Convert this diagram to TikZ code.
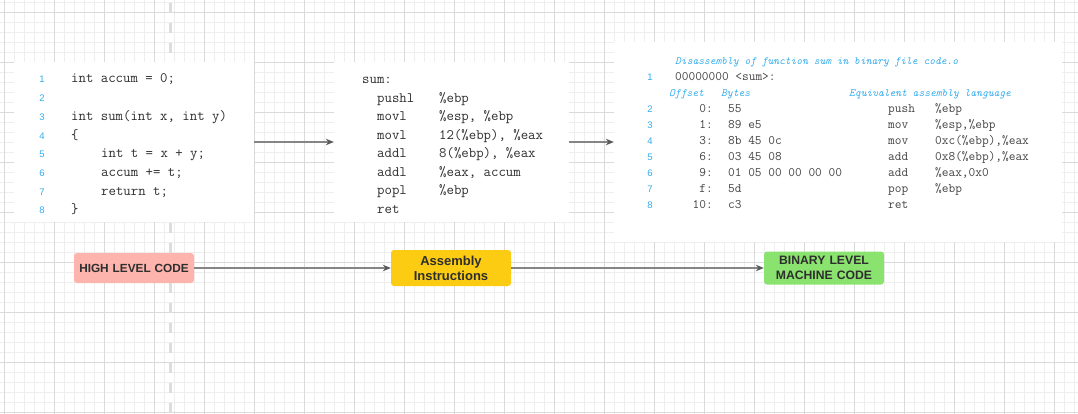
\documentclass[tikz,border=0pt]{standalone}
\usepackage{fontspec}
\newfontfamily\labelfont{Liberation Sans}
\usetikzlibrary{arrows.meta}

\definecolor{gridminor}{HTML}{EEEEEE}
\definecolor{gridmajor}{HTML}{DADADA}
\definecolor{pagebreak}{HTML}{DDDDDD}
\definecolor{codegray}{HTML}{2E2E2E}
\definecolor{dumpgray}{HTML}{444444}
\definecolor{lineblue}{HTML}{33ADEE}
\definecolor{arrowgray}{HTML}{858585}
\definecolor{headgray}{HTML}{5A5A5A}
\definecolor{hlcpink}{HTML}{FDB4AC}
\definecolor{asmyellow}{HTML}{FCCC12}
\definecolor{bingreen}{HTML}{8BE36F}

\begin{document}
\begin{tikzpicture}[x=1pt, y=-1pt,
    panel/.style={fill=white, draw=none, inner sep=0pt},
    lno/.style={text=lineblue, font=\labelfont\fontsize{9.5}{10}\selectfont, anchor=base, inner sep=0pt},
    code/.style={text=codegray, font=\ttfamily\fontsize{14.4}{16}\selectfont, anchor=base west, inner sep=0pt},
    dump/.style={text=dumpgray, font=\ttfamily\fontsize{13}{15}\selectfont, anchor=base west, inner sep=0pt},
    heading/.style={text=lineblue, font=\ttfamily\itshape\fontsize{11}{13}\selectfont, anchor=base west, inner sep=0pt},
    stage/.style={rounded corners=3pt, minimum width=120pt, text width=116pt, align=center, inner sep=0pt,
        text=codegray},
    flow/.style={arrowgray, line width=1.4pt, -{Stealth[length=8pt, width=6.5pt, color=headgray]}},
]
    % --- Definitions ---
    \def\srcTop{83}     % baseline of first C line
    \def\srcStep{18.7}
    \def\asmTop{84}     % baseline of "sum:"
    \def\asmStep{18.5}
    \def\dumpTop{113}   % baseline of first byte row
    \def\dumpStep{15.9}

    % --- Canvas and grid ---
    \useasboundingbox (0,0) rectangle (1078,414);
    \fill[white] (0,0) rectangle (1078,414);
    \foreach \x in {4,14,...,1074} \draw[gridminor, line width=0.8pt] (\x,0) -- (\x,414);
    \foreach \y in {2,12,...,412} \draw[gridminor, line width=0.8pt] (0,\y) -- (1078,\y);
    \foreach \x in {4,54,...,1054} \draw[gridmajor, line width=0.8pt] (\x,0) -- (\x,414);
    \foreach \y in {12,62,...,412} \draw[gridmajor, line width=0.8pt] (0,\y) -- (1078,\y);

    % --- Page break ---
    \draw[pagebreak, line width=3pt, dash pattern=on 10pt off 10pt] (170,3) -- (170,414);

    % --- Panels ---
    \node[panel, minimum width=240pt, minimum height=160pt] (src) at (134,142) {};
    \node[panel, minimum width=235pt, minimum height=160pt] (asmcode) at (451.5,142) {};
    \node[panel, minimum width=448pt, minimum height=200pt] (objdump) at (838,142) {};

    % --- C source ---
    \foreach \n in {1,...,8}
        \node[lno] (src-l\n) at (42,{\srcTop+\srcStep*(\n-1)}) {\n};
    \foreach \n/\x/\t in {1/71/{int accum = 0;}, 3/71/{int sum(int x, int y)}, 4/71/{\{},
                          5/101/{int t = x + y;}, 6/101/{accum += t;}, 7/101/{return t;}, 8/71/{\}}}
        \node[code] (src-c\n) at (\x,{\srcTop+\srcStep*(\n-1)}) {\t};

    % --- Assembly ---
    \node[code] (asm-label) at (362,\asmTop) {sum:};
    \foreach \k/\op/\arg in {1/pushl/{\%ebp}, 2/movl/{\%esp, \%ebp}, 3/movl/{12(\%ebp), \%eax},
                             4/addl/{8(\%ebp), \%eax}, 5/addl/{\%eax, accum}, 6/popl/{\%ebp}, 7/ret/{}} {
        \node[code] (asm-op\k) at (377,{\asmTop+\asmStep*\k}) {\op};
        \node[code] (asm-arg\k) at (439,{\asmTop+\asmStep*\k}) {\arg};
    }

    % --- Disassembly ---
    \node[heading] (dump-title) at (675,65) {Disassembly of function sum in binary file code.o};
    \node[lno] (dump-l1) at (650,81) {1};
    \node[dump] (dump-sym) at (675,81) {00000000 <sum>:};
    \node[heading] (dump-off) at (669,97) {Offset};
    \node[heading] (dump-bytes) at (721,97) {Bytes};
    \node[heading] (dump-equiv) at (849,97) {Equivalent assembly language};
    \foreach \n/\off/\bytes/\op/\arg in {2/0:/55/push/{\%ebp}, 3/1:/89 e5/mov/{\%esp,\%ebp},
            4/3:/8b 45 0c/mov/{0xc(\%ebp),\%eax}, 5/6:/03 45 08/add/{0x8(\%ebp),\%eax},
            6/9:/01 05 00 00 00 00/add/{\%eax,0x0}, 7/f:/5d/pop/{\%ebp}, 8/10:/c3/ret/{}} {
        \node[lno] (dump-l\n) at (650,{\dumpTop+\dumpStep*(\n-2)}) {\n};
        \node[dump, anchor=base east] (dump-o\n) at (713,{\dumpTop+\dumpStep*(\n-2)}) {\off};
        \node[dump] (dump-b\n) at (728,{\dumpTop+\dumpStep*(\n-2)}) {\bytes};
        \node[dump] (dump-m\n) at (888,{\dumpTop+\dumpStep*(\n-2)}) {\op};
        \node[dump] (dump-a\n) at (935,{\dumpTop+\dumpStep*(\n-2)}) {\arg};
    }

    % --- Stages ---
    \node[stage, fill=hlcpink, minimum height=30pt, font=\labelfont\bfseries\fontsize{11.8}{15}\selectfont]
        (hlc) at (134,268) {HIGH LEVEL CODE};
    \node[stage, fill=asmyellow, minimum height=36pt, font=\labelfont\bfseries\fontsize{13}{15}\selectfont]
        (asm) at (451,268) {Assembly\\Instructions};
    \node[stage, fill=bingreen, minimum height=33pt, font=\labelfont\bfseries\fontsize{12.2}{15}\selectfont]
        (bin) at (824,268) {BINARY LEVEL\\MACHINE CODE};

    % --- Arrows ---
    \draw[flow] (src) -- (asmcode);
    \draw[flow] (asmcode) -- (objdump);
    \draw[flow] (hlc) -- (asm);
    \draw[flow] (asm) -- (bin);

\end{tikzpicture}
\end{document}
